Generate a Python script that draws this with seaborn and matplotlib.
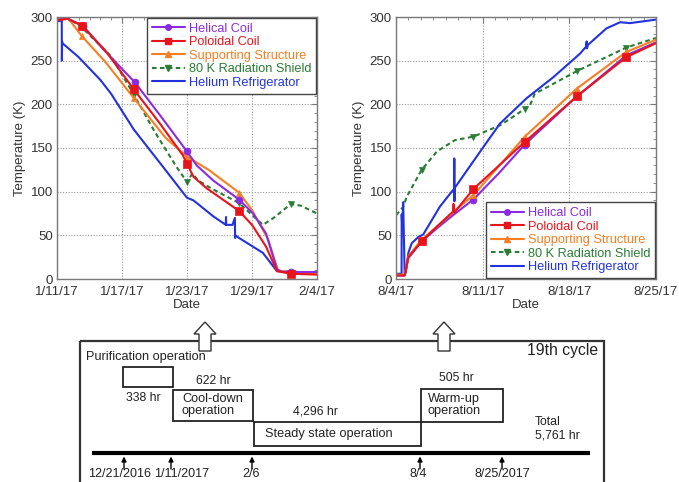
import numpy as np
import pandas as pd
import seaborn as sns
import matplotlib
matplotlib.use("Agg")
import matplotlib.pyplot as plt
from matplotlib.lines import Line2D
from matplotlib.patches import Rectangle, FancyArrow
from matplotlib.ticker import MultipleLocator

# ---------------- data: cool-down (days since 1/11/17) ----------------
cd_ticks = [0, 6, 12, 18, 24]
cd_ticklabels = ["1/11/17", "1/17/17", "1/23/17", "1/29/17", "2/4/17"]

cd_hc_d = [0, 1.0, 2.4, 4.2, 7.2, 9.6, 12.0, 12.9, 14.4, 16.8, 18.1, 19.3, 20.3, 20.8, 21.6, 24]
cd_hc_t = [297, 298, 290, 264, 225, 186, 146, 130, 113, 91, 75, 52, 11, 8, 8, 8]
cd_hc_m = [2, 4, 6, 9, 14]

cd_pc_d = [0, 1.0, 2.3, 4.5, 7.1, 9.5, 11.6, 12.0, 12.6, 13.8, 16.8, 18.0, 19.3, 20.3, 21.6, 24]
cd_pc_t = [296, 298, 290, 261, 217, 178, 142, 132, 117, 104, 78, 62, 37, 9, 6, 5]
cd_pc_m = [2, 4, 7, 10, 14]

cd_ss_d = [0, 1.0, 2.3, 4.5, 7.1, 10.0, 12.0, 14.0, 16.8, 18.0, 19.5, 20.4, 21.6, 24]
cd_ss_t = [297, 299, 278, 248, 207, 162, 140, 125, 99, 79, 45, 10, 7, 6]
cd_ss_m = [2, 4, 6, 8, 12]

cd_rs_d = [0, 1.0, 2.3, 5.0, 7.1, 9.0, 11.0, 12.0, 12.5, 13.0, 14.2, 16.8, 19.0, 20.0, 21.6, 22.5, 24]
cd_rs_t = [297, 299, 288, 255, 211, 169, 129, 111, 121, 113, 104, 87, 62, 70, 86, 84, 75]
cd_rs_m = [2, 4, 7, 11, 14]

cd_hr_d = [0, 0.44, 0.45, 0.47, 0.5, 2.0, 4.0, 5.0, 7.1, 10.0, 12.0, 12.6, 14.4, 15.58, 15.6,
           15.62, 16.2, 16.42, 16.44, 16.46, 16.8, 19.0, 20.3, 24]
cd_hr_t = [295, 296, 250, 272, 270, 254, 228, 212, 171, 125, 93, 90, 72, 62, 71,
           62, 62, 70, 47, 50, 47, 30, 9, 7]

# ---------------- data: warm-up (days since 8/4/17) ----------------
wu_ticks = [0, 7, 14, 21]
wu_ticklabels = ["8/4/17", "8/11/17", "8/18/17", "8/25/17"]

wu_hc_d = [0, 0.7, 1.0, 2.07, 3.3, 4.6, 6.25, 8.3, 10.4, 14.6, 18.6, 21.0]
wu_hc_t = [4, 4, 24, 43, 58, 73, 91, 121, 154, 209, 256, 271]
wu_hc_m = [3, 6, 8, 9, 10]

wu_pc_d = [0, 0.7, 1.0, 2.07, 3.3, 4.6, 4.65, 4.7, 6.25, 10.4, 14.6, 18.6, 21.0]
wu_pc_t = [4, 4, 25, 43, 60, 77, 86, 76, 103, 157, 209, 254, 270]
wu_pc_m = [3, 8, 9, 10, 11]

wu_ss_d = [0, 0.7, 1.0, 2.07, 3.3, 4.5, 6.25, 10.4, 14.6, 18.6, 21.0]
wu_ss_t = [5, 5, 26, 45, 60, 75, 96, 163, 218, 260, 274]
wu_ss_m = [3, 6, 7, 8, 9]

wu_rs_d = [0, 0.6, 0.86, 2.07, 3.3, 4.76, 6.25, 8.4, 9.8, 10.4, 10.8, 11.2, 14.6, 18.6, 21.0]
wu_rs_t = [73, 83, 94, 125, 146, 159, 163, 176, 189, 195, 198, 212, 238, 265, 276]
wu_rs_m = [3, 6, 9, 12, 13]

wu_hr_d = [0, 0.45, 0.46, 0.5, 0.58, 0.7, 0.8, 1.0, 1.27, 1.8, 2.2, 3.55, 4.5, 4.70, 4.71,
           4.72, 4.73, 7.05, 8.4, 10.55, 12.7, 14.86, 15.35, 15.4, 15.42, 15.5, 17.0, 18.1,
           18.9, 21.0]
wu_hr_t = [6, 6, 74, 60, 88, 5, 8, 30, 41, 48, 51, 83, 100, 103, 138,
           89, 104, 151, 178, 207, 231, 258, 266, 272, 264, 268, 287, 294,
           293, 297]

series_names = ["Helical Coil", "Poloidal Coil", "Supporting Structure",
                "80 K Radiation Shield", "Helium Refrigerator"]

# ---------------- diagram content ----------------
stage_names = ["Purification operation", "Cool-down\noperation",
               "Steady state operation", "Warm-up\noperation"]
stage_hours = ["338 hr", "622 hr", "4,296 hr", "505 hr"]
total_label = "Total\n5,761 hr"
cycle_label = "19th cycle"
timeline_dates = ["12/21/2016", "1/11/2017", "2/6", "8/4", "8/25/2017"]

# ---------------- styling ----------------
sns.set_theme(style="white")
plt.rcParams["font.family"] = ["Liberation Sans", "DejaVu Sans"]

colors = ["#8a2be2", "#e8141c", "#f57f22", "#2a7d34", "#2233dd"]
markers = ["o", "s", "^", "v", None]
msizes = [5, 6, 5, 5, 0]
lstyles = ["-", "-", "-", (0, (2.2, 1.6)), "-"]

W, H = 679, 482
fig = plt.figure(figsize=(W / 100, H / 100), dpi=100)

# diagram axes in pixel coordinates (behind)
dax = fig.add_axes([0, 0, 1, 1], zorder=0)
dax.set_xlim(0, W)
dax.set_ylim(H, 0)
dax.axis("off")


def pix_axes(x0, y0, x1, y1):
    return fig.add_axes([x0 / W, 1 - y1 / H, (x1 - x0) / W, (y1 - y0) / H], zorder=2)


axL = pix_axes(57, 17, 317, 279)
axR = pix_axes(396, 17, 656, 279)

grey = "#7a7a7a"


def style_axes(ax, ticks, labels, xmax):
    ax.set_xlim(0, xmax)
    ax.set_ylim(0, 300)
    ax.set_xticks(ticks)
    ax.set_xticklabels(labels)
    ax.xaxis.set_minor_locator(MultipleLocator(1))
    ax.set_yticks(range(0, 301, 50))
    ax.yaxis.set_minor_locator(MultipleLocator(10))
    ax.tick_params(which="both", direction="in", top=True, right=True,
                   color=grey, labelcolor="#333333", labelsize=9.5)
    ax.tick_params(axis="y", pad=3)
    ax.tick_params(axis="x", pad=5)
    ax.tick_params(which="major", length=4, width=0.8)
    ax.tick_params(which="minor", length=2, width=0.6)
    for s in ax.spines.values():
        s.set_color(grey)
        s.set_linewidth(1.0)
    ax.grid(True, which="major", color="#9a9a9a", ls=(0, (1, 1.5)), lw=0.8)
    ax.set_xlabel("Date", fontsize=9.5, color="#333333", labelpad=1)
    ax.set_ylabel("Temperature (K)", fontsize=9.5, color="#333333", labelpad=3)


def draw(ax, d, t, i, m=None):
    kw = dict(x=d, y=t, ax=ax, color=colors[i], lw=1.5, ls=lstyles[i],
              estimator=None, sort=False, legend=False)
    if m is not None:
        kw.update(marker=markers[i], markevery=m, ms=msizes[i],
                  mec=colors[i], mfc=colors[i], mew=0.5)
    sns.lineplot(**kw)


def legend(ax, loc):
    handles = [Line2D([], [], color=colors[i], ls=lstyles[i], lw=1.5,
                      marker=markers[i] if markers[i] else None,
                      ms=msizes[i] - 1, mec=colors[i], mfc=colors[i])
               for i in range(5)]
    lg = ax.legend(handles, series_names, loc=loc, borderaxespad=0.05,
                   fontsize=9.2, frameon=True, fancybox=False, edgecolor="#444444",
                   framealpha=1, handlelength=2.6, handletextpad=0.3,
                   labelspacing=0.12, borderpad=0.4, numpoints=1)
    lg.get_frame().set_linewidth(1.0)
    for txt, c in zip(lg.get_texts(), colors):
        txt.set_color(c)
    lg.set_zorder(10)


# left chart (cool-down)
draw(axL, cd_rs_d, cd_rs_t, 3, cd_rs_m)
draw(axL, cd_hr_d, cd_hr_t, 4)
draw(axL, cd_ss_d, cd_ss_t, 2, cd_ss_m)
draw(axL, cd_hc_d, cd_hc_t, 0, cd_hc_m)
draw(axL, cd_pc_d, cd_pc_t, 1, cd_pc_m)
style_axes(axL, cd_ticks, cd_ticklabels, 24)
legend(axL, "upper right")

# right chart (warm-up)
draw(axR, wu_rs_d, wu_rs_t, 3, wu_rs_m)
draw(axR, wu_hr_d, wu_hr_t, 4)
draw(axR, wu_hc_d, wu_hc_t, 0, wu_hc_m)
draw(axR, wu_ss_d, wu_ss_t, 2, wu_ss_m)
draw(axR, wu_pc_d, wu_pc_t, 1, wu_pc_m)
style_axes(axR, wu_ticks, wu_ticklabels, 21)
legend(axR, "lower right")

# ---------------- schematic of the operation cycle ----------------
ink = "#222222"
fs = 9.0
fh = 8.8
dax.add_patch(Rectangle((80, 341), 524, 160, fill=False, ec="#333333", lw=1.6))
for ax_x in (205, 444):
    dax.add_patch(FancyArrow(ax_x, 351, 0, -17, width=12, head_width=22,
                             head_length=12, length_includes_head=False,
                             fc="white", ec="#333333", lw=1.0, zorder=5))
dax.text(598, 351, cycle_label, ha="right", va="center", fontsize=11.3, color=ink)

# stage boxes
dax.add_patch(Rectangle((123, 367), 50, 20, fill=False, ec=ink, lw=1.3))
dax.add_patch(Rectangle((173, 390), 80, 31, fill=False, ec=ink, lw=1.3))
dax.add_patch(Rectangle((254, 422), 167, 24, fill=False, ec=ink, lw=1.3))
dax.add_patch(Rectangle((421, 389), 82, 33, fill=False, ec=ink, lw=1.3))

dax.text(86, 357, stage_names[0], ha="left", va="center", fontsize=fs + 0.2, color=ink)
dax.text(182, 405, stage_names[1], ha="left", va="center", fontsize=fs + 0.2,
         color=ink, linespacing=1.05)
dax.text(265, 434, stage_names[2], ha="left", va="center", fontsize=fs + 0.2, color=ink)
dax.text(428, 405, stage_names[3], ha="left", va="center", fontsize=fs + 0.2,
         color=ink, linespacing=1.05)

dax.text(143, 398, stage_hours[0], ha="center", va="center", fontsize=fh, color=ink)
dax.text(213, 381, stage_hours[1], ha="center", va="center", fontsize=fh, color=ink)
dax.text(315, 412, stage_hours[2], ha="center", va="center", fontsize=fh, color=ink)
dax.text(456, 378, stage_hours[3], ha="center", va="center", fontsize=fh, color=ink)
dax.text(535, 429, total_label, ha="left", va="center", fontsize=fh, color=ink,
         linespacing=1.2)

# timeline
dax.plot([92, 590], [453, 453], color="black", lw=3, solid_capstyle="butt")
for x_t in [124, 171, 252, 420, 502]:
    dax.annotate("", xy=(x_t, 456.5), xytext=(x_t, 469),
                 arrowprops=dict(arrowstyle="-|>", color="black", lw=1.0,
                                 mutation_scale=7, shrinkA=0, shrinkB=0))
dax.text(151, 474, timeline_dates[0], ha="right", va="center", fontsize=fs, color=ink)
dax.text(154, 474, timeline_dates[1], ha="left", va="center", fontsize=fs, color=ink)
dax.text(251, 474, timeline_dates[2], ha="center", va="center", fontsize=fs, color=ink)
dax.text(418, 474, timeline_dates[3], ha="center", va="center", fontsize=fs, color=ink)
dax.text(502, 474, timeline_dates[4], ha="center", va="center", fontsize=fs, color=ink)

fig.savefig("out.png", dpi=100)
